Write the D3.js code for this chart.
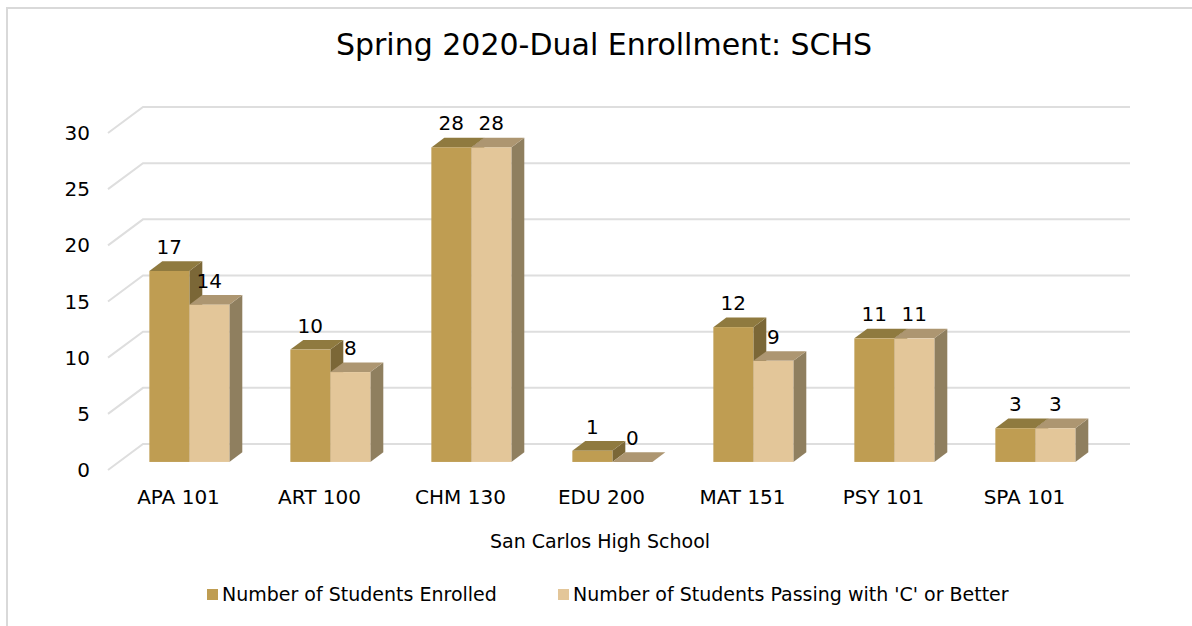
<!DOCTYPE html>
<html lang="en">
<head>
  <meta charset="UTF-8">
  <title>Spring 2020-Dual Enrollment: SCHS</title>
  <script src="https://cdn.jsdelivr.net/npm/d3@7"></script>
  <style>
    html, body { margin: 0; padding: 0; background: #fff; }
    text { font-family: "DejaVu Sans", sans-serif; fill: #000; }
  </style>
</head>
<body>
<div id="chart"></div>

<script>
const courses = ["APA 101", "ART 100", "CHM 130", "EDU 200", "MAT 151", "PSY 101", "SPA 101"];
const enrolled = [17, 10, 28, 1, 12, 11, 3];
const passing = [14, 8, 28, 0, 9, 11, 3];
const seriesNames = ["Number of Students Enrolled", "Number of Students Passing with 'C' or Better"];
const yTicks = [0, 5, 10, 15, 20, 25, 30];

const width = 1192, height = 626;

// colours per series: front, top, side
const faces = [
  { front: "#bf9d52", top: "#8f7a3f", side: "#7b6737" },
  { front: "#e3c699", top: "#ad9671", side: "#8f7f5f" }
];

const svg = d3.select("#chart").append("svg")
  .attr("width", width)
  .attr("height", height);

// outer border
svg.append("rect")
  .attr("x", 7).attr("y", 8)
  .attr("width", width + 20).attr("height", height + 20)
  .attr("fill", "none").attr("stroke", "#d9d9d9").attr("stroke-width", 2);

// 3d floor geometry
const x0 = 108, floorY = 470;     // front-left corner of floor
const depth = { dx: 35, dy: -26 }; // full depth of the floor
const t0 = 0.31, t1 = 0.68;        // bar front / back depth fractions

const x = d3.scaleBand().domain(courses).range([x0, x0 + 987]).padding(0);
const xSub = d3.scaleBand().domain([0, 1]).range([0, x.bandwidth()]).paddingOuter(0.7625).paddingInner(0);
const y = d3.scaleLinear().domain([0, 30]).range([0, 337]);

// gridlines: left wall diagonal + back wall
const grid = svg.append("g").attr("stroke", "#dedede").attr("stroke-width", 2).attr("fill", "none");
yTicks.forEach(v => {
  const fy = floorY - y(v);
  const bx = x0 + depth.dx, by = fy + depth.dy;
  grid.append("path")
    .attr("d", `M${x0},${fy}L${bx},${by}L${x.range()[1] + depth.dx},${by}`);
});

// y tick labels
svg.append("g").selectAll("text")
  .data(yTicks)
  .join("text")
  .attr("x", x0 - 18)
  .attr("y", d => floorY - y(d))
  .attr("dy", "0.35em")
  .attr("text-anchor", "end")
  .attr("font-size", "20px")
  .text(d => d);

// bars
const bars = svg.append("g");
const ddx = depth.dx * (t1 - t0), ddy = depth.dy * (t1 - t0);
const baseY = floorY + depth.dy * t0;
const shiftX = depth.dx * t0;

courses.forEach((c, i) => {
  [enrolled[i], passing[i]].forEach((v, s) => {
    const left = x(c) + xSub(s) + shiftX;
    const w = xSub.bandwidth();
    const top = baseY - y(v);
    const f = faces[s];
    // side
    bars.append("path")
      .attr("d", `M${left + w},${top}L${left + w + ddx},${top + ddy}L${left + w + ddx},${baseY + ddy}L${left + w},${baseY}Z`)
      .attr("fill", f.side);
    // top
    bars.append("path")
      .attr("d", `M${left},${top}L${left + ddx},${top + ddy}L${left + w + ddx},${top + ddy}L${left + w},${top}Z`)
      .attr("fill", f.top);
    // front
    bars.append("rect")
      .attr("x", left).attr("y", top)
      .attr("width", w).attr("height", y(v))
      .attr("fill", f.front);
  });
});

// data labels
courses.forEach((c, i) => {
  [enrolled[i], passing[i]].forEach((v, s) => {
    svg.append("text")
      .attr("x", x(c) + xSub(s) + shiftX + xSub.bandwidth() / 2)
      .attr("y", baseY - y(v) - 24)
      .attr("dy", "0.35em")
      .attr("text-anchor", "middle")
      .attr("font-size", "20px")
      .text(v);
  });
});

// category labels
svg.append("g").selectAll("text")
  .data(courses)
  .join("text")
  .attr("x", d => x(d) + x.bandwidth() / 2)
  .attr("y", 504)
  .attr("text-anchor", "middle")
  .attr("font-size", "20px")
  .text(d => d);

// axis title
svg.append("text")
  .attr("x", 600).attr("y", 548)
  .attr("text-anchor", "middle")
  .attr("font-size", "19px")
  .text("San Carlos High School");

// chart title
svg.append("text")
  .attr("x", 604).attr("y", 55)
  .attr("text-anchor", "middle")
  .attr("font-size", "30px")
  .text("Spring 2020-Dual Enrollment: SCHS");

// legend
const legendX = [207, 558];
const legend = svg.append("g");
seriesNames.forEach((name, s) => {
  legend.append("rect")
    .attr("x", legendX[s]).attr("y", 589)
    .attr("width", 11).attr("height", 11)
    .attr("fill", faces[s].front);
  legend.append("text")
    .attr("x", legendX[s] + 15).attr("y", 601)
    .attr("font-size", "19px")
    .text(name);
});
</script>
</body>
</html>
